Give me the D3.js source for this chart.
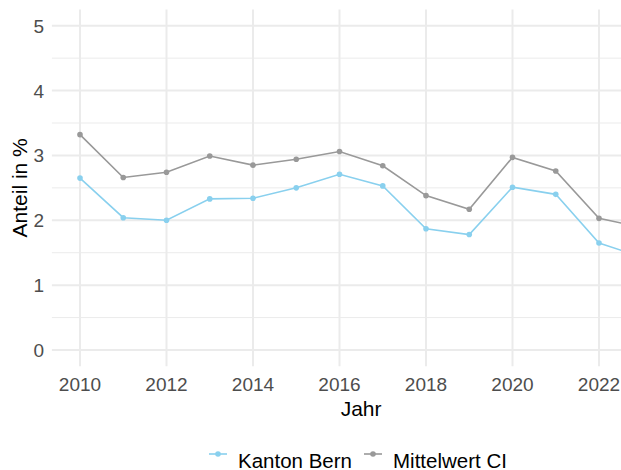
<!DOCTYPE html>
<html>
<head>
<meta charset="utf-8">
<script src="https://cdn.jsdelivr.net/npm/d3@7"></script>
<style>
  body { margin: 0; background: #fff; }
  text { font-family: "Liberation Sans", Arial, sans-serif; }
</style>
</head>
<body>
<div id="chart"></div>
<script>
var width = 621, height = 470;

var years = [2010, 2011, 2012, 2013, 2014, 2015, 2016, 2017, 2018, 2019, 2020, 2021, 2022, 2023];
var kantonBern = [2.65, 2.04, 2.00, 2.33, 2.34, 2.50, 2.71, 2.53, 1.87, 1.78, 2.51, 2.40, 1.65, 1.43];
var mittelwertCI = [3.32, 2.66, 2.74, 2.99, 2.85, 2.94, 3.06, 2.84, 2.38, 2.17, 2.97, 2.76, 2.03, 1.89];
var xTicks = [2010, 2012, 2014, 2016, 2018, 2020, 2022];
var yTicks = [0, 1, 2, 3, 4, 5];
var yMinor = [0.5, 1.5, 2.5, 3.5, 4.5];

var series = [
  {name: "Kanton Bern", values: kantonBern, color: "#89d0ee"},
  {name: "Mittelwert CI", values: mittelwertCI, color: "#999999"}
];

// scales (ggplot style 5% expansion around 2010-2023 and 0-5)
var x = d3.scaleLinear().domain([2010, 2022]).range([80, 599]);
var y = d3.scaleLinear().domain([0, 5]).range([350, 25.7]);

var pLeft = x(2009.35), pRight = x(2023.65), pTop = y(5.25), pBottom = y(-0.25);

var svg = d3.select("#chart").append("svg")
    .attr("width", width).attr("height", height);

svg.append("clipPath").attr("id", "panel")
  .append("rect").attr("x", pLeft).attr("y", pTop)
  .attr("width", pRight - pLeft).attr("height", pBottom - pTop);

var grid = svg.append("g");

grid.selectAll(".minor").data(yMinor).enter().append("line")
    .attr("x1", pLeft).attr("x2", pRight)
    .attr("y1", d => y(d)).attr("y2", d => y(d))
    .attr("stroke", "#ebebeb").attr("stroke-width", 1);

grid.selectAll(".hmajor").data(yTicks).enter().append("line")
    .attr("x1", pLeft).attr("x2", pRight)
    .attr("y1", d => y(d)).attr("y2", d => y(d))
    .attr("stroke", "#ebebeb").attr("stroke-width", 2);

grid.selectAll(".vmajor").data(xTicks).enter().append("line")
    .attr("y1", pTop).attr("y2", pBottom)
    .attr("x1", d => x(d)).attr("x2", d => x(d))
    .attr("stroke", "#ebebeb").attr("stroke-width", 2);

var plot = svg.append("g").attr("clip-path", "url(#panel)");

var line = d3.line().x((d, i) => x(years[i])).y(d => y(d));

series.forEach(function(s) {
  plot.append("path")
      .datum(s.values)
      .attr("fill", "none")
      .attr("stroke", s.color)
      .attr("stroke-width", 1.6)
      .attr("d", line);
  plot.selectAll(null).data(s.values).enter().append("circle")
      .attr("cx", (d, i) => x(years[i]))
      .attr("cy", d => y(d))
      .attr("r", 2.8)
      .attr("fill", s.color);
});

// axes labels
svg.selectAll(".ylab").data(yTicks).enter().append("text")
    .attr("x", 44).attr("y", d => y(d) + 7)
    .attr("text-anchor", "end")
    .attr("fill", "#4d4d4d").style("font-size", "19px")
    .text(d => d);

svg.selectAll(".xlab").data(xTicks).enter().append("text")
    .attr("x", d => x(d)).attr("y", 391)
    .attr("text-anchor", "middle")
    .attr("fill", "#4d4d4d").style("font-size", "19px")
    .text(d => d);

svg.append("text")
    .attr("x", (pLeft + pRight) / 2).attr("y", 416)
    .attr("text-anchor", "middle")
    .attr("fill", "#000").style("font-size", "21px")
    .text("Jahr");

svg.append("text")
    .attr("transform", "translate(27," + ((pTop + pBottom) / 2) + ") rotate(-90)")
    .attr("text-anchor", "middle")
    .attr("fill", "#000").style("font-size", "21px")
    .text("Anteil in %");

// legend
var legendX = [209, 364];
var leg = svg.selectAll(".legend").data(series).enter().append("g")
    .attr("transform", (d, i) => "translate(" + legendX[i] + ",454)");
leg.append("line").attr("x1", 0).attr("x2", 18)
    .attr("stroke", d => d.color).attr("stroke-width", 1.6);
leg.append("circle").attr("cx", 9).attr("r", 2.8).attr("fill", d => d.color);
leg.append("text").attr("x", 29).attr("y", 14)
    .attr("fill", "#000").style("font-size", "20.5px")
    .text(d => d.name);
</script>
</body>
</html>
